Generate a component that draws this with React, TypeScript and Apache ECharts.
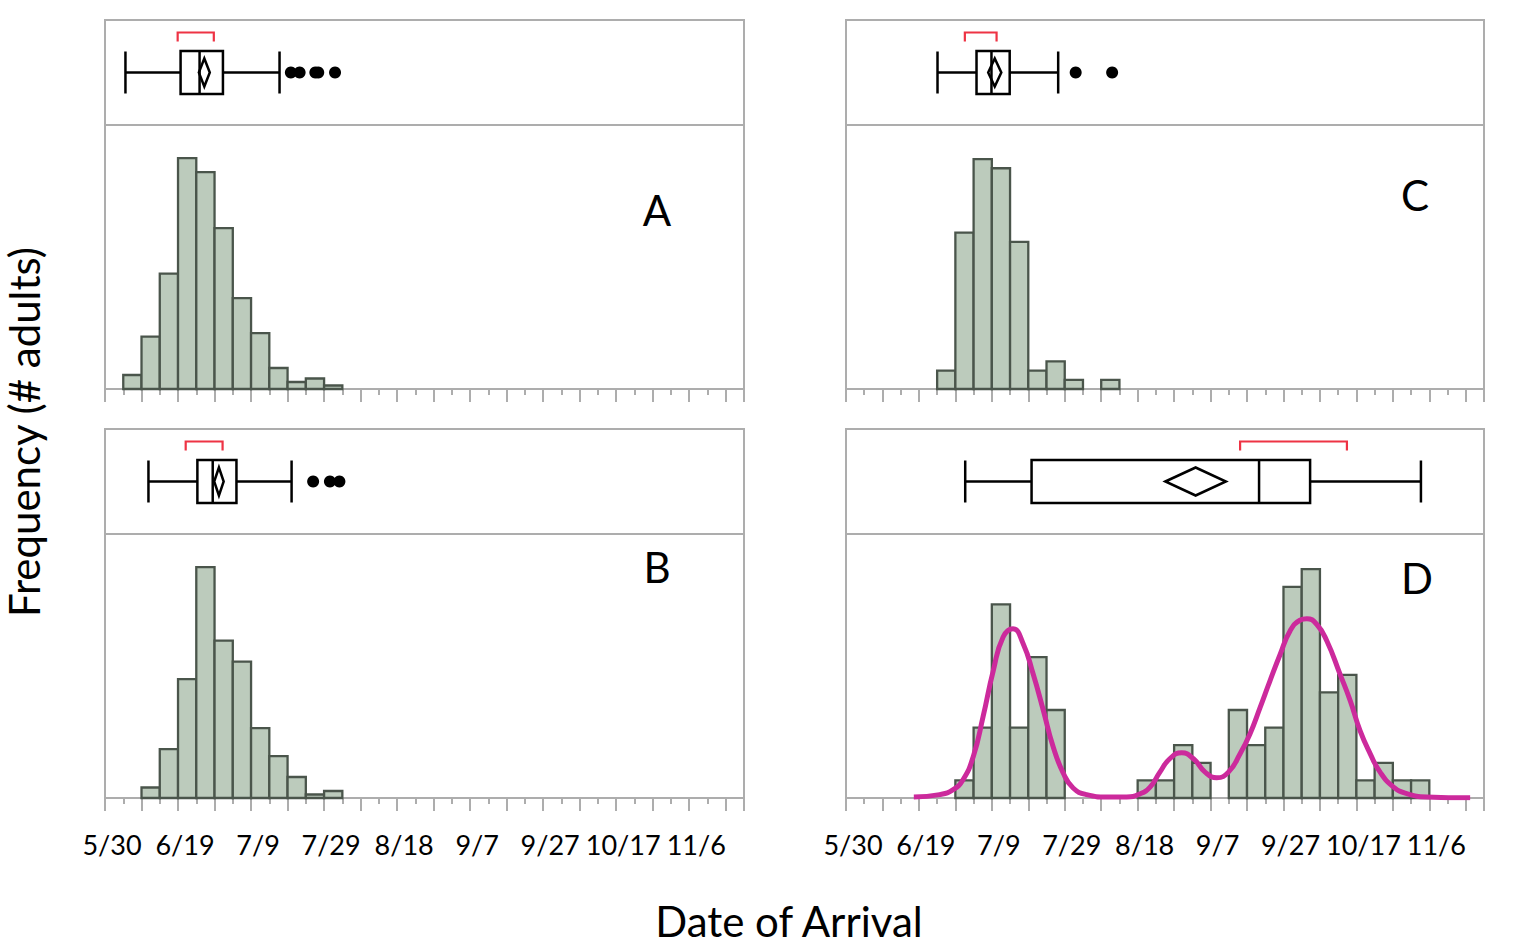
import React, { useEffect, useRef } from 'react';
import * as echarts from 'echarts';

// ---------- data ----------
const tickLabels = ['5/30', '6/19', '7/9', '7/29', '8/18', '9/7', '9/27', '10/17', '11/6'];
const labelStepDays = 20; // days between labelled ticks (day 0 = 5/30)
const axisMaxDays = 175;
const binWidth = 5;

// histogram counts per 5-day bin (first bin start in days after 5/30)
const binStartA = 5;
const countsA = [4, 15, 33, 66, 62, 46, 26, 16, 6, 2, 3, 1];
const binStartB = 10;
const countsB = [3, 14, 34, 66, 45, 39, 20, 12, 6, 1, 2];
const binStartC = 25;
const countsC = [2, 17, 25, 24, 16, 2, 3, 1, 0, 1];
const binStartD = 30;
const countsD = [1, 4, 11, 4, 8, 5, 0, 0, 0, 0, 1, 1, 3, 2, 0, 5, 3, 4, 12, 13, 6, 7, 1, 2, 1, 1];

// box stats: [lowWhisker, q1, median, q3, highWhisker, mean, meanCIHalf, shortestHalfLo, shortestHalfHi]
const boxA = [5.6, 20.7, 25.9, 32.3, 47.8, 27.2, 1.5, 19.9, 29.8];
const outliersA = [50.9, 53.3, 57.6, 58.4, 63.0];
const boxB = [11.9, 25.3, 29.5, 36.0, 51.1, 31.2, 1.3, 22.1, 32.2];
const outliersB = [57.0, 61.6, 64.2];
const boxC = [25.1, 35.8, 39.9, 44.9, 58.2, 40.8, 1.8, 32.6, 41.3];
const outliersC = [63.0, 73.0];
const boxD = [32.7, 50.9, 113.3, 127.3, 157.7, 95.9, 8.3, 108.1, 137.4];
const outliersD: number[] = [];

// fitted density curve for panel D
const curveDaysD = [18.6, 25.7, 29.4, 32.1, 34.9, 37.6, 40.4, 43.1, 45.8, 48.6, 51.3, 54.1, 56.8, 59.6, 62.3, 66.0, 71.5, 77.0, 80.6, 83.4, 86.1, 88.8, 92.1, 95.3, 98.5, 101.7, 104.9, 108.1, 110.8, 113.6, 116.3, 119.1, 121.8, 124.5, 126.4, 129.1, 131.9, 135.5, 138.3, 141.0, 143.8, 146.5, 150.2, 153.8, 159.3, 171.2];
const curveValsD = [0.05, 0.19, 0.47, 1.04, 2.35, 4.62, 7.24, 9.15, 9.62, 8.77, 7.07, 5.0, 2.92, 1.41, 0.57, 0.19, 0.06, 0.06, 0.23, 0.62, 1.47, 2.23, 2.57, 2.23, 1.47, 1.15, 1.47, 2.51, 3.64, 5.15, 6.66, 8.17, 9.49, 10.1, 10.19, 9.87, 8.92, 7.04, 5.53, 3.83, 2.51, 1.47, 0.62, 0.25, 0.06, 0.01];

const panelLetters = ['A', 'C', 'B', 'D'];
const yMaxes = [75.5, 28.7, 75.5, 15];

// ---------- layout / style ----------
const FONT = 'Lato, "Open Sans", sans-serif';
const GRAY = '#adadad';
const BAR_FILL = '#bccbbc';
const BAR_EDGE = '#4a554b';
const CURVE = '#cc2a9c';
const RED = '#ee3344';

const colLeft = [105, 846];
const colWidth = [639, 638];
const rowBoxTop = [20, 429];
const boxH = 105;
const histH = 264;
const letterPos = [[657, 210], [1415, 195], [657, 567], [1417, 578]];

const App: React.FC = () => {
  const ref = useRef<HTMLDivElement>(null);

  useEffect(() => {
    if (!ref.current) return;
    const chart = echarts.init(ref.current, undefined, { renderer: 'svg' });

    const panels = [
      { col: 0, row: 0, start: binStartA, counts: countsA, box: boxA, out: outliersA },
      { col: 1, row: 0, start: binStartC, counts: countsC, box: boxC, out: outliersC },
      { col: 0, row: 1, start: binStartB, counts: countsB, box: boxB, out: outliersB },
      { col: 1, row: 1, start: binStartD, counts: countsD, box: boxD, out: outliersD },
    ];

    const grid: any[] = [];
    const xAxis: any[] = [];
    const yAxis: any[] = [];
    const series: any[] = [];
    const graphic: any[] = [];

    panels.forEach((p, i) => {
      const gBox = i * 2;
      const gHist = i * 2 + 1;
      grid.push({ left: colLeft[p.col], width: colWidth[p.col], top: rowBoxTop[p.row], height: boxH, show: true, borderColor: GRAY, borderWidth: 2, backgroundColor: 'transparent' });
      grid.push({ left: colLeft[p.col], width: colWidth[p.col], top: rowBoxTop[p.row] + boxH, height: histH, show: true, borderColor: GRAY, borderWidth: 2, backgroundColor: 'transparent' });

      xAxis.push({ type: 'value', gridIndex: gBox, min: 0, max: axisMaxDays, show: false });
      xAxis.push({
        type: 'value', gridIndex: gHist, min: 0, max: axisMaxDays, interval: 10,
        axisLine: { show: true, lineStyle: { color: GRAY, width: 2 } },
        axisTick: { show: true, length: 13, lineStyle: { color: GRAY, width: 2 } },
        minorTick: { show: true, splitNumber: 2, length: 6, lineStyle: { color: GRAY, width: 2 } },
        splitLine: { show: false },
        minorSplitLine: { show: false },
        axisLabel: {
          show: p.row === 1,
          color: '#000',
          fontFamily: FONT,
          fontSize: 27,
          margin: 33,
          padding: [0, 0, 0, 14],
          formatter: (v: number) => {
            const k = Math.round(v);
            if (k % labelStepDays !== 0) return '';
            const idx = k / labelStepDays;
            return idx < tickLabels.length ? tickLabels[idx] : '';
          },
        },
      });
      yAxis.push({ type: 'value', gridIndex: gBox, min: 0, max: 1, show: false });
      yAxis.push({ type: 'value', gridIndex: gHist, min: 0, max: yMaxes[i], show: false });

      // histogram bars
      series.push({
        type: 'custom',
        xAxisIndex: gHist,
        yAxisIndex: gHist,
        encode: { x: [0, 1], y: 2 },
        data: p.counts.map((c, k) => [p.start + k * binWidth, p.start + (k + 1) * binWidth, c]),
        renderItem: (params: any, api: any) => {
          const s = api.value(0);
          const e = api.value(1);
          const v = api.value(2);
          if (!v) return { type: 'group', children: [] };
          const p0 = api.coord([s, v]);
          const p1 = api.coord([e, 0]);
          return {
            type: 'rect',
            shape: { x: p0[0], y: p0[1], width: p1[0] - p0[0], height: p1[1] - p0[1] },
            style: { fill: BAR_FILL, stroke: BAR_EDGE, lineWidth: 2.3 },
          };
        },
      });

      // box plot
      series.push({
        type: 'custom',
        xAxisIndex: gBox,
        yAxisIndex: gBox,
        encode: { x: [0, 4] },
        data: [p.box],
        renderItem: (params: any, api: any) => {
          const X = (d: number) => api.coord([d, 0.5])[0];
          const yc = api.coord([0, 0.5])[1];
          const lo = X(api.value(0)), q1 = X(api.value(1)), md = X(api.value(2)), q3 = X(api.value(3)), hi = X(api.value(4));
          const mean = api.value(5), ci = api.value(6);
          const mn = X(mean), cL = X(mean - ci), cR = X(mean + ci);
          const sL = X(api.value(7)), sR = X(api.value(8));
          const blk = { stroke: '#000', lineWidth: 2.5, fill: 'none' };
          return {
            type: 'group',
            children: [
              { type: 'line', shape: { x1: lo, y1: yc, x2: q1, y2: yc }, style: blk },
              { type: 'line', shape: { x1: q3, y1: yc, x2: hi, y2: yc }, style: blk },
              { type: 'line', shape: { x1: lo, y1: yc - 21, x2: lo, y2: yc + 21 }, style: blk },
              { type: 'line', shape: { x1: hi, y1: yc - 21, x2: hi, y2: yc + 21 }, style: blk },
              { type: 'rect', shape: { x: q1, y: yc - 21.5, width: q3 - q1, height: 43 }, style: blk },
              { type: 'line', shape: { x1: md, y1: yc - 21.5, x2: md, y2: yc + 21.5 }, style: blk },
              { type: 'polygon', shape: { points: [[cL, yc], [mn, yc - 14], [cR, yc], [mn, yc + 14]] }, style: blk },
              { type: 'polyline', shape: { points: [[sL, yc - 31], [sL, yc - 40], [sR, yc - 40], [sR, yc - 31]] }, style: { stroke: RED, lineWidth: 2.2, fill: 'none' } },
            ],
          };
        },
      });

      if (p.out.length) {
        series.push({
          type: 'scatter',
          xAxisIndex: gBox,
          yAxisIndex: gBox,
          symbol: 'circle',
          symbolSize: 12,
          itemStyle: { color: '#000', opacity: 1 },
          data: p.out.map((d) => [d, 0.5]),
        });
      }

      graphic.push({
        type: 'text',
        x: letterPos[i][0],
        y: letterPos[i][1],
        style: { text: panelLetters[i], fill: '#000', font: `42px ${FONT}`, textAlign: 'center', textVerticalAlign: 'middle', align: 'center', verticalAlign: 'middle' },
      });
    });

    // density curve on panel D histogram
    series.push({
      type: 'line',
      xAxisIndex: 7,
      yAxisIndex: 7,
      smooth: 0.5,
      symbol: 'none',
      lineStyle: { color: CURVE, width: 5, opacity: 1 },
      data: curveDaysD.map((d, k) => [d, curveValsD[k]]),
      z: 5,
    });

    graphic.push({
      type: 'text',
      x: 789,
      y: 921,
      style: { text: 'Date of Arrival', fill: '#000', font: `42px ${FONT}`, textAlign: 'center', textVerticalAlign: 'middle', align: 'center', verticalAlign: 'middle' },
    });
    graphic.push({
      type: 'text',
      x: 24,
      y: 432,
      rotation: Math.PI / 2,
      style: { text: 'Frequency (# adults)', fill: '#000', font: `42px ${FONT}`, textAlign: 'center', textVerticalAlign: 'middle', align: 'center', verticalAlign: 'middle' },
    });

    chart.setOption({
      animation: false,
      backgroundColor: '#fff',
      grid,
      xAxis,
      yAxis,
      series,
      graphic,
    });

    return () => chart.dispose();
  }, []);

  return <div ref={ref} style={{ position: 'absolute', left: 0, top: 0, width: 1536, height: 949 }} />;
};

export default App;
